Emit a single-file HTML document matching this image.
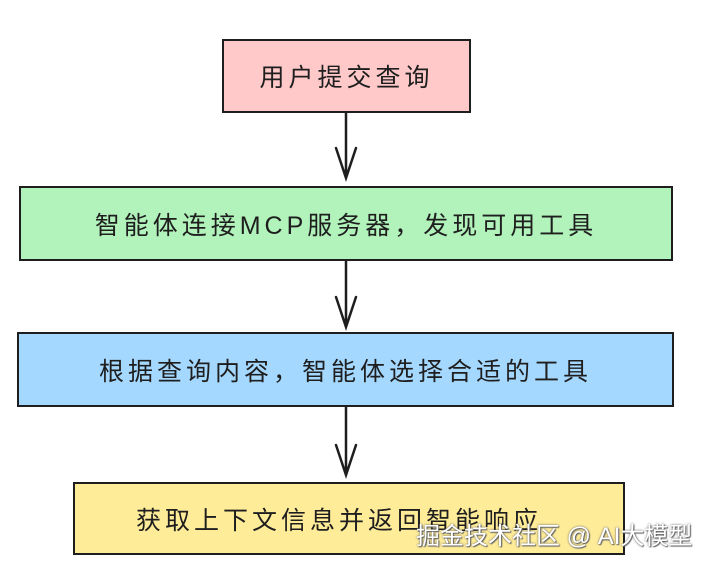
<!DOCTYPE html>
<html><head><meta charset="utf-8"><style>
body{margin:0;width:705px;height:564px;background:#fff;overflow:hidden;position:relative;font-family:"Liberation Sans","Noto Sans CJK SC",sans-serif}
.b{position:absolute;box-sizing:border-box;border:2.5px solid #1e1e1e;display:flex;align-items:center;justify-content:center;font-size:25px;color:#1e1e1e;letter-spacing:4px}
.wm{position:absolute;left:416px;top:516px;font-size:24px;color:#fff;text-shadow:0 0 2px #555,1px 1px 1px #666;font-family:"Liberation Sans","Noto Sans CJK SC",sans-serif}
</style></head><body>
<div class="b" style="left:222px;top:39px;width:249px;height:74px;background:#ffc9c9">用户提交查询</div>
<div class="b" style="left:19px;top:186px;width:654px;height:75px;background:#b2f2bb">智能体连接MCP服务器，发现可用工具</div>
<div class="b" style="left:17px;top:332px;width:657px;height:75px;background:#a5d8ff">根据查询内容，智能体选择合适的工具</div>
<div class="b" style="left:73px;top:482px;width:552px;height:73px;background:#ffec99;padding-right:20px">获取上下文信息并返回智能响应</div>
<svg width="705" height="564" style="position:absolute;left:0;top:0" fill="none" stroke="#1e1e1e" stroke-width="2.5" stroke-linecap="round">
<path d="M346 113 L346 178 M336 148 L346 178 L356 148"/>
<path d="M346 261 L346 327 M336 297 L346 327 L356 297"/>
<path d="M346 407 L346 475 M336 445 L346 475 L356 445"/>
</svg>
<div class="wm">掘金技术社区 @ AI大模型</div>
</body></html>
